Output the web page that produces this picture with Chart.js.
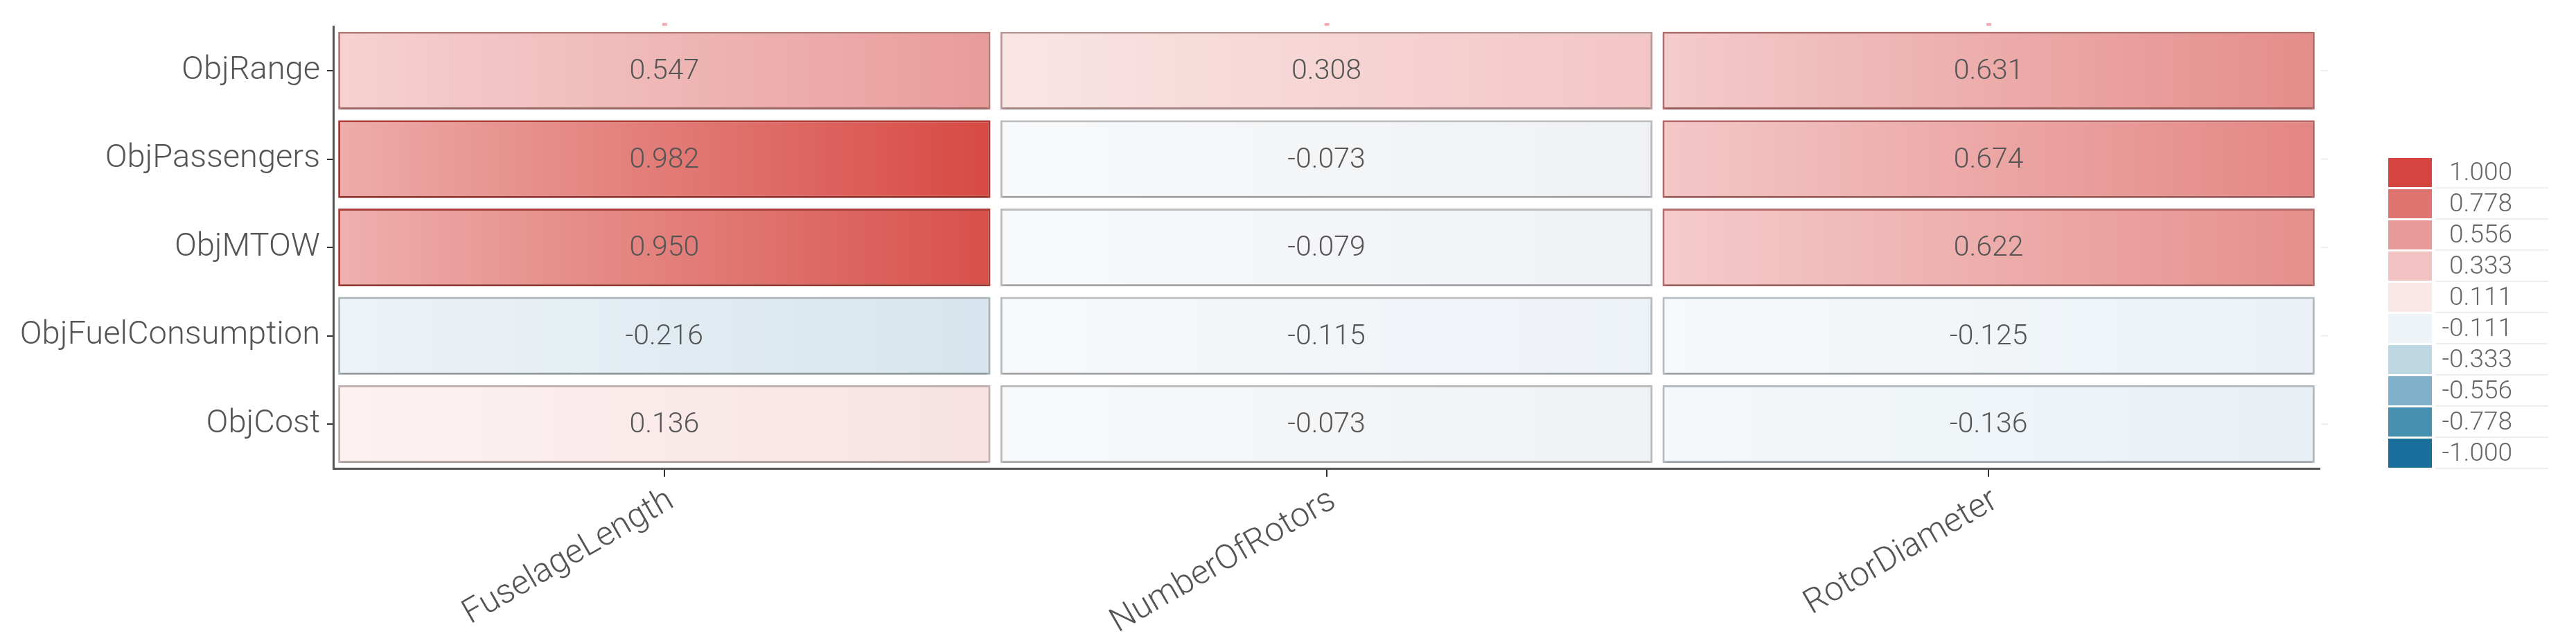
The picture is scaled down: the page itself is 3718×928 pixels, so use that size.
<!DOCTYPE html>
<html>
<head>
<meta charset="utf-8">
<title>Correlation heatmap</title>
<script src="https://cdn.jsdelivr.net/npm/chart.js@4.4.0/dist/chart.umd.min.js"></script>
<style>
  html, body { margin: 0; padding: 0; background: #fff; }
</style>
</head>
<body>
<canvas id="heat" width="3718" height="928"></canvas>
<script>
// rows (top to bottom) and columns of the heatmap
var rowNames = ["ObjRange", "ObjPassengers", "ObjMTOW", "ObjFuelConsumption", "ObjCost"];
var colNames = ["FuselageLength", "NumberOfRotors", "RotorDiameter"];

// correlation values per column, same order as rowNames
var fuselageLength = [0.547, 0.982, 0.950, -0.216, 0.136];
var numberOfRotors = [0.308, -0.073, -0.079, -0.115, -0.073];
var rotorDiameter  = [0.631, 0.674, 0.622, -0.125, -0.136];

// colour key
var legendValues = [1.000, 0.778, 0.556, 0.333, 0.111, -0.111, -0.333, -0.556, -0.778, -1.000];
var legendColors = ["#d6453f", "#e07470", "#e89a98", "#f2c1c1", "#f9e6e6",
                    "#eef3f7", "#bcd6e2", "#7fb0c9", "#4890b0", "#1a6e9b"];

var columns = [fuselageLength, numberOfRotors, rotorDiameter];
var cellInset = 0.0075;   // small white gap between columns

function hexToRgb(h) {
  return [parseInt(h.substr(1, 2), 16), parseInt(h.substr(3, 2), 16), parseInt(h.substr(5, 2), 16)];
}
function mix(a, b, t) {
  return [a[0] + (b[0] - a[0]) * t, a[1] + (b[1] - a[1]) * t, a[2] + (b[2] - a[2]) * t];
}
function rgb(c) {
  return "rgb(" + Math.round(c[0]) + "," + Math.round(c[1]) + "," + Math.round(c[2]) + ")";
}
function colorFor(v) {
  for (var i = 0; i < legendValues.length - 1; i++) {
    var hi = legendValues[i], lo = legendValues[i + 1];
    if (v <= hi && v >= lo) {
      var t = (hi - v) / (hi - lo);
      return mix(hexToRgb(legendColors[i]), hexToRgb(legendColors[i + 1]), t);
    }
  }
  return hexToRgb(v > 0 ? legendColors[0] : legendColors[legendColors.length - 1]);
}

function cellFill(ctx) {
  var raw = ctx.raw;
  if (!raw) return "#fff";
  var base = colorFor(raw.v);
  var chart = ctx.chart, xs = chart.scales.x;
  if (!chart.chartArea || !xs) return rgb(base);
  var x0 = xs.getPixelForValue(raw.x[0]), x1 = xs.getPixelForValue(raw.x[1]);
  if (!isFinite(x0) || !isFinite(x1)) return rgb(base);
  var g = chart.ctx.createLinearGradient(x0, 0, x1, 0);
  g.addColorStop(0, rgb(mix(base, [255, 255, 255], 0.55)));
  g.addColorStop(1, rgb(base));
  return g;
}
function cellBorder(ctx) {
  if (!ctx.raw) return "#bbb";
  var c = colorFor(ctx.raw.v);
  return rgb([c[0] * 0.78, c[1] * 0.78, c[2] * 0.78]);
}

var datasets = columns.map(function (vals, c) {
  return {
    label: colNames[c],
    data: vals.map(function (v, r) {
      return { x: [c + cellInset, c + 1 - cellInset], y: rowNames[r], v: v };
    }),
    backgroundColor: cellFill,
    borderColor: cellBorder,
    borderWidth: 3,
    borderSkipped: false,
    grouped: false,
    barPercentage: 0.88,
    categoryPercentage: 1
  };
});

// shadow under the cells + value text
var cellPlugin = {
  id: "cellText",
  beforeDatasetsDraw: function (chart) {
    var c = chart.ctx;
    c.save();
    c.shadowColor = "rgba(0,0,0,0.16)";
    c.shadowOffsetX = 0;
    c.shadowOffsetY = 4;
    c.shadowBlur = 3;
  },
  afterDatasetsDraw: function (chart) {
    var c = chart.ctx, area = chart.chartArea;
    c.restore();
    c.save();
    // little marks on the top and right edges of the panel
    c.fillStyle = "#f2aab0";
    chart.scales.x.ticks.forEach(function (t) {
      var px = chart.scales.x.getPixelForValue(t.value);
      c.fillRect(px - 3, area.top - 5, 7, 4);
    });
    c.fillStyle = "#eeeeee";
    rowNames.forEach(function (n, i) {
      var py = chart.scales.y.getPixelForValue(i);
      c.fillRect(area.right + 2, py - 1, 10, 2);
    });
    c.font = "300 41px Roboto";
    c.fillStyle = "#555";
    c.textAlign = "center";
    c.textBaseline = "middle";
    chart.data.datasets.forEach(function (ds, i) {
      chart.getDatasetMeta(i).data.forEach(function (el, j) {
        var p = el.getCenterPoint();
        c.fillText(ds.data[j].v.toFixed(3), p.x, p.y + 2);
      });
    });
    c.restore();
  }
};

// stepped colour key on the right
var legendPlugin = {
  id: "colorKey",
  afterDraw: function (chart) {
    var c = chart.ctx, area = chart.chartArea;
    var left = area.right + 99, boxW = 63, rowH = 45;
    var top = chart.height / 2 - legendValues.length * rowH / 2 - 12;
    c.save();
    c.font = "300 37px Roboto";
    c.textAlign = "right";
    c.textBaseline = "middle";
    legendValues.forEach(function (v, i) {
      var y = top + i * rowH;
      c.fillStyle = legendColors[i];
      c.fillRect(left, y + 1, boxW, rowH - 3);
      c.fillStyle = "#666";
      c.fillText(v.toFixed(3), left + 179, y + rowH / 2 + 1);
      c.strokeStyle = "#eeeeee";
      c.lineWidth = 2;
      c.beginPath();
      c.moveTo(left + 68, y + rowH - 1);
      c.lineTo(left + 231, y + rowH - 1);
      c.stroke();
    });
    c.restore();
  }
};

Chart.defaults.font.family = "Roboto";

var ctx = document.getElementById("heat").getContext("2d");
var heatChart = new Chart(ctx, {
  type: "bar",
  data: { labels: rowNames, datasets: datasets },
  plugins: [cellPlugin, legendPlugin],
  options: {
    indexAxis: "y",
    responsive: false,
    animation: false,
    layout: { padding: { top: 31, right: 370, left: 0, bottom: 0 } },
    plugins: { legend: { display: false }, tooltip: { enabled: false } },
    scales: {
      x: {
        type: "linear",
        min: 0,
        max: 3,
        afterBuildTicks: function (axis) {
          axis.ticks = colNames.map(function (n, i) { return { value: i + 0.5 }; });
        },
        afterFit: function (s) { s.height = 252; },
        ticks: {
          callback: function (v, i) { return colNames[i]; },
          autoSkip: false,
          minRotation: 30,
          maxRotation: 30,
          padding: 6,
          labelOffset: 10,
          color: "#555",
          font: { size: 49, weight: "300" }
        },
        grid: { drawOnChartArea: false, tickLength: 12, color: "#333", lineWidth: 2 },
        border: { color: "#555", width: 3 }
      },
      y: {
        type: "category",
        offset: true,
        afterFit: function (s) { s.width = 481; },
        ticks: {
          padding: 10,
          color: "#555",
          font: { size: 47, weight: "300" }
        },
        grid: { drawOnChartArea: false, offset: false, tickLength: 9, color: "#333", lineWidth: 2 },
        border: { color: "#555", width: 3 }
      }
    }
  }
});
</script>
</body>
</html>
